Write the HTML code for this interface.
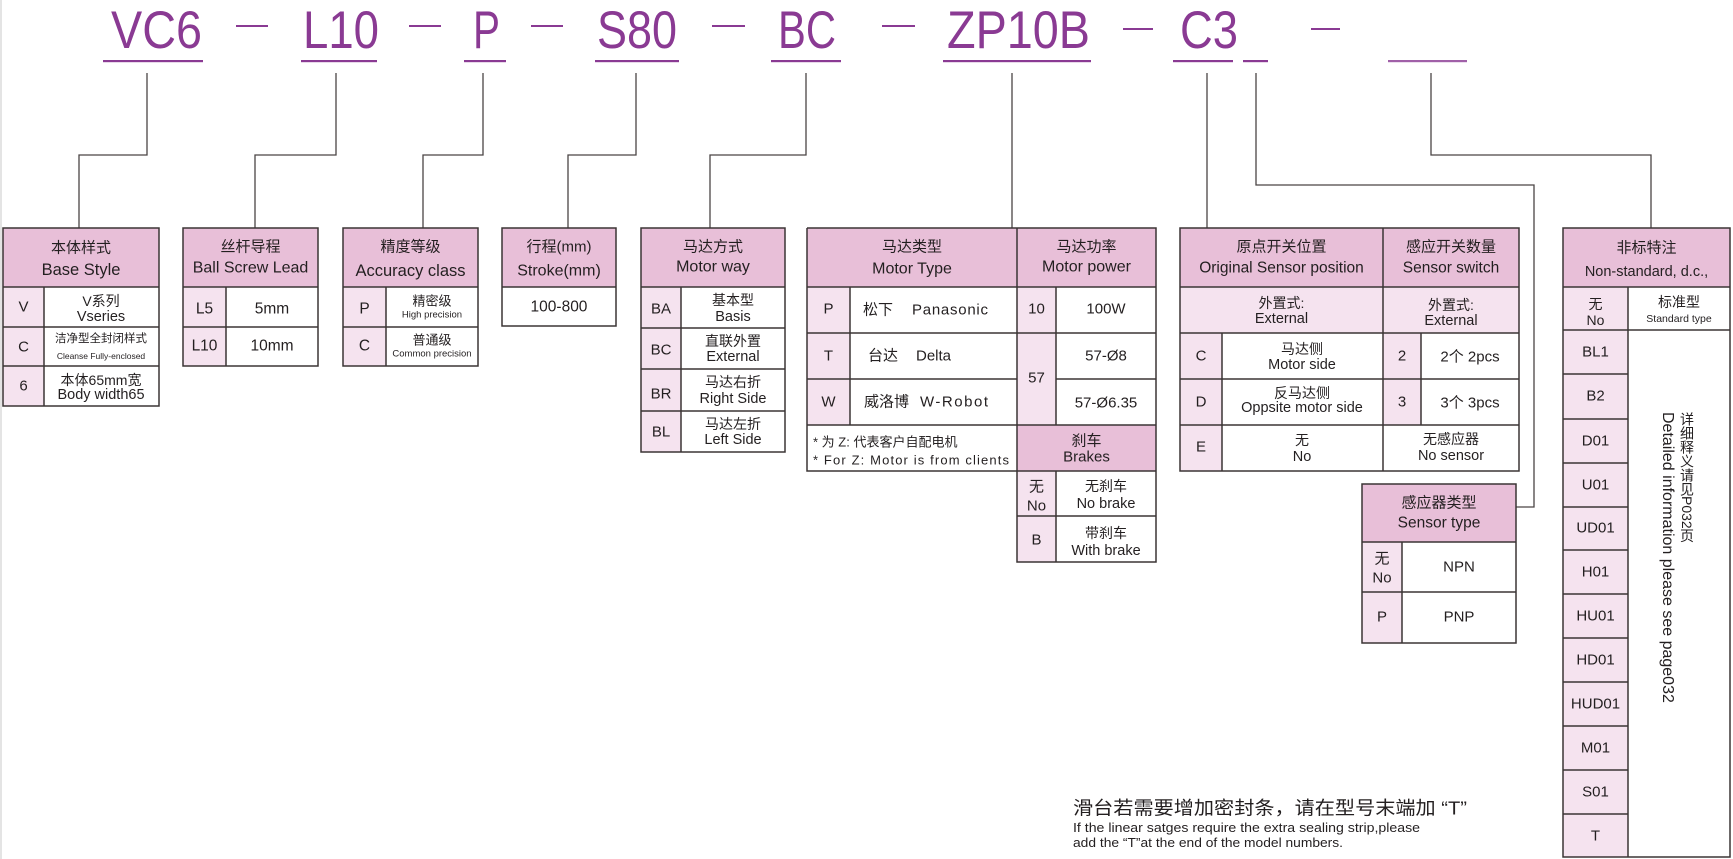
<!DOCTYPE html>
<html><head><meta charset="utf-8">
<style>
html,body{margin:0;padding:0;background:#fff;}
body{width:1733px;height:859px;position:relative;overflow:hidden;}
svg{position:absolute;left:0;top:0;}
svg text{font-family:"Liberation Sans","Noto Sans CJK SC",sans-serif;fill:#231f20;dominant-baseline:central;text-anchor:middle;}
.vt{position:absolute;left:1658px;top:412px;writing-mode:vertical-rl;font-family:"Liberation Sans","Noto Sans CJK SC",sans-serif;color:#231f20;line-height:19px;white-space:nowrap;}
.vt .c{font-size:14px;}
.vt .e{font-size:16px;}
</style></head><body>
<svg width="1733" height="859" viewBox="0 0 1733 859" xmlns="http://www.w3.org/2000/svg">
<rect x="0" y="0" width="2" height="859" fill="#e4e4e4"/>
<!-- Title -->
<g font-size="53">
<text x="111" y="48" style="fill:#8a3a93;dominant-baseline:auto;text-anchor:start" textLength="91" lengthAdjust="spacingAndGlyphs">VC6</text>
<text x="303" y="48" style="fill:#8a3a93;dominant-baseline:auto;text-anchor:start" textLength="76" lengthAdjust="spacingAndGlyphs">L10</text>
<text x="473" y="48" style="fill:#8a3a93;dominant-baseline:auto;text-anchor:start" textLength="27" lengthAdjust="spacingAndGlyphs">P</text>
<text x="597" y="48" style="fill:#8a3a93;dominant-baseline:auto;text-anchor:start" textLength="80" lengthAdjust="spacingAndGlyphs">S80</text>
<text x="778" y="48" style="fill:#8a3a93;dominant-baseline:auto;text-anchor:start" textLength="58" lengthAdjust="spacingAndGlyphs">BC</text>
<text x="947" y="48" style="fill:#8a3a93;dominant-baseline:auto;text-anchor:start" textLength="143" lengthAdjust="spacingAndGlyphs">ZP10B</text>
<text x="1180" y="48" style="fill:#8a3a93;dominant-baseline:auto;text-anchor:start" textLength="58" lengthAdjust="spacingAndGlyphs">C3</text>
</g>
<g fill="#8a3a93">
<rect x="103" y="60" width="100" height="2.2"/>
<rect x="301" y="60" width="76" height="2.2"/>
<rect x="464" y="60" width="42" height="2.2"/>
<rect x="595" y="60" width="84" height="2.2"/>
<rect x="771" y="60" width="70" height="2.2"/>
<rect x="943" y="60" width="148" height="2.2"/>
<rect x="1173" y="60" width="60" height="2.2"/>
<rect x="1243" y="60" width="25" height="2.2"/>
<rect x="1388" y="60" width="79" height="2.2" fill="#a060a8"/>
<rect x="236" y="25" width="32" height="2"/>
<rect x="409" y="25" width="32" height="2"/>
<rect x="531" y="25" width="32" height="2"/>
<rect x="712" y="25" width="33" height="2"/>
<rect x="882" y="25" width="33" height="2"/>
<rect x="1123" y="28" width="30" height="2"/>
<rect x="1311" y="28" width="29" height="2"/>
</g>
<!-- connectors -->
<g fill="none" stroke="#4a4545" stroke-width="1.3">
<path d="M147 73V155H79V228"/>
<path d="M336 73V155H255V228"/>
<path d="M483 73V155H423V228"/>
<path d="M636 73V155H568V228"/>
<path d="M806 73V155H710V228"/>
<path d="M1012 73V228"/>
<path d="M1207 73V228"/>
<path d="M1256 73V185H1534V507H1516"/>
<path d="M1431 73V155H1651V228"/>
</g>

<!-- fills -->
<g>
<rect x="3" y="228" width="156" height="59" fill="#e8bfd8"/>
<rect x="3" y="287" width="41" height="119" fill="#f5e3ef"/>
<rect x="183" y="228" width="135" height="59" fill="#e8bfd8"/>
<rect x="183" y="287" width="43" height="79" fill="#f5e3ef"/>
<rect x="343" y="228" width="135" height="59" fill="#e8bfd8"/>
<rect x="343" y="287" width="43" height="79" fill="#f5e3ef"/>
<rect x="502" y="228" width="114" height="59" fill="#e8bfd8"/>
<rect x="641" y="228" width="144" height="59" fill="#e8bfd8"/>
<rect x="641" y="287" width="40" height="165" fill="#f5e3ef"/>
<rect x="807" y="228" width="349" height="59" fill="#e8bfd8"/>
<rect x="807" y="287" width="43" height="138" fill="#f5e3ef"/>
<rect x="1017" y="287" width="39" height="138" fill="#f5e3ef"/>
<rect x="1017" y="425" width="139" height="46" fill="#e8bfd8"/>
<rect x="1017" y="471" width="39" height="91" fill="#f5e3ef"/>
<rect x="1180" y="228" width="339" height="59" fill="#e8bfd8"/>
<rect x="1180" y="287" width="339" height="46" fill="#f5e3ef"/>
<rect x="1180" y="333" width="42" height="138" fill="#f5e3ef"/>
<rect x="1383" y="333" width="38" height="92" fill="#f5e3ef"/>
<rect x="1362" y="484" width="154" height="58" fill="#e8bfd8"/>
<rect x="1362" y="542" width="40" height="101" fill="#f5e3ef"/>
<rect x="1563" y="228" width="167" height="59" fill="#e8bfd8"/>
<rect x="1563" y="287" width="65" height="570" fill="#f5e3ef"/>
</g>

<!-- borders -->
<g fill="none" stroke="#3b3535" stroke-width="1.5">
<rect x="3" y="228" width="156" height="178"/>
<path d="M3 287H159M3 327H159M3 366H159M44 287V406"/>
<rect x="183" y="228" width="135" height="138"/>
<path d="M183 287H318M183 327H318M226 287V366"/>
<rect x="343" y="228" width="135" height="138"/>
<path d="M343 287H478M343 327H478M386 287V366"/>
<rect x="502" y="228" width="114" height="98"/>
<path d="M502 287H616"/>
<rect x="641" y="228" width="144" height="224"/>
<path d="M641 287H785M641 328H785M641 369H785M641 411H785M681 287V452"/>
<path d="M807 228H1156V562H1017V228M807 228V471H1017"/>
<path d="M807 287H1156M807 333H1156M807 379H1017M1056 379H1156M807 425H1156M850 287V425M1056 287V425M1017 471H1156M1017 516H1156M1056 471V562"/>
<rect x="1180" y="228" width="339" height="243"/>
<path d="M1180 287H1519M1180 333H1519M1180 379H1519M1180 425H1519M1383 228V471M1222 333V471M1421 333V425"/>
<rect x="1362" y="484" width="154" height="159"/>
<path d="M1362 542H1516M1362 592H1516M1402 542V643"/>
<rect x="1563" y="228" width="167" height="629"/>
<path d="M1563 287H1730M1563 330H1730M1628 287V857"/>
<path d="M1563 374H1628M1563 419H1628M1563 463H1628M1563 507H1628M1563 550H1628M1563 594H1628M1563 638H1628M1563 682H1628M1563 726H1628M1563 770H1628M1563 814H1628"/>
</g>

<!-- T1 text -->
<g font-size="15">
<text x="81" y="248">本体样式</text>
<text x="81" y="270" font-size="16.5">Base Style</text>
<text x="23.5" y="307">V</text>
<text x="23.5" y="347">C</text>
<text x="23.5" y="386">6</text>
<text x="101" y="301" font-size="14">V系列</text>
<text x="101" y="317" font-size="14.5">Vseries</text>
<text x="101" y="339" font-size="11.5">洁净型全封闭样式</text>
<text x="101" y="356" font-size="8.5">Cleanse Fully-enclosed</text>
<text x="101" y="380" font-size="14">本体65mm宽</text>
<text x="101" y="395" font-size="14.5">Body width65</text>
</g>
<!-- T2 -->
<g font-size="15.5">
<text x="250.5" y="247" font-size="15">丝杆导程</text>
<text x="250.5" y="268" font-size="16">Ball Screw Lead</text>
<text x="204.5" y="309">L5</text>
<text x="204.5" y="346">L10</text>
<text x="272" y="309">5mm</text>
<text x="272" y="346">10mm</text>
</g>
<!-- T3 -->
<g font-size="15.5">
<text x="410.5" y="247" font-size="15">精度等级</text>
<text x="410.5" y="271" font-size="16.5">Accuracy class</text>
<text x="364.5" y="309">P</text>
<text x="364.5" y="346">C</text>
<text x="432" y="301" font-size="13">精密级</text>
<text x="432" y="315" font-size="9.5">High precision</text>
<text x="432" y="340" font-size="13">普通级</text>
<text x="432" y="354" font-size="9.5">Common precision</text>
</g>
<!-- T4 -->
<g font-size="15.5">
<text x="559" y="247" font-size="15">行程(mm)</text>
<text x="559" y="271" font-size="16">Stroke(mm)</text>
<text x="559" y="307">100-800</text>
</g>
<!-- T5 -->
<g font-size="15">
<text x="713" y="247">马达方式</text>
<text x="713" y="267" font-size="16">Motor way</text>
<text x="661" y="309">BA</text>
<text x="661" y="350">BC</text>
<text x="661" y="394">BR</text>
<text x="661" y="432">BL</text>
<text x="733" y="300" font-size="14">基本型</text>
<text x="733" y="317" font-size="14.5">Basis</text>
<text x="733" y="341" font-size="14">直联外置</text>
<text x="733" y="357" font-size="14.5">External</text>
<text x="733" y="382" font-size="14">马达右折</text>
<text x="733" y="399" font-size="14.5">Right Side</text>
<text x="733" y="424" font-size="14">马达左折</text>
<text x="733" y="440" font-size="14.5">Left Side</text>
</g>
<!-- T6 -->
<g font-size="15">
<text x="912" y="247">马达类型</text>
<text x="912" y="269" font-size="16">Motor Type</text>
<text x="1086.5" y="247">马达功率</text>
<text x="1086.5" y="267" font-size="16">Motor power</text>
<text x="828.5" y="309">P</text>
<text x="828.5" y="356">T</text>
<text x="828.5" y="402">W</text>
<text x="863" y="310" style="text-anchor:start">松下</text>
<text x="912" y="310" style="text-anchor:start" textLength="76">Panasonic</text>
<text x="868" y="356" style="text-anchor:start">台达</text>
<text x="916" y="356" style="text-anchor:start">Delta</text>
<text x="864" y="402" style="text-anchor:start">威洛博</text>
<text x="920" y="402" style="text-anchor:start" textLength="68">W-Robot</text>
<text x="813" y="442" font-size="13" style="text-anchor:start">* 为 Z: 代表客户自配电机</text>
<text x="813" y="460" font-size="13" style="text-anchor:start" textLength="196">* For Z: Motor is from clients</text>
<text x="1036.5" y="309">10</text>
<text x="1106" y="309">100W</text>
<text x="1036.5" y="378">57</text>
<text x="1106" y="356">57-Ø8</text>
<text x="1106" y="403">57-Ø6.35</text>
<text x="1086.5" y="441">刹车</text>
<text x="1086.5" y="457">Brakes</text>
<text x="1036.5" y="487">无</text>
<text x="1036.5" y="506">No</text>
<text x="1106" y="486" font-size="14">无刹车</text>
<text x="1106" y="504" font-size="14.5">No brake</text>
<text x="1036.5" y="540">B</text>
<text x="1106" y="533" font-size="14">带刹车</text>
<text x="1106" y="551" font-size="14.5">With brake</text>
</g>
<!-- T7 -->
<g font-size="15">
<text x="1281.5" y="247">原点开关位置</text>
<text x="1281.5" y="268" font-size="15.5">Original Sensor position</text>
<text x="1451" y="247">感应开关数量</text>
<text x="1451" y="268" font-size="15.5">Sensor switch</text>
<text x="1281.5" y="303" font-size="14">外置式:</text>
<text x="1281.5" y="319" font-size="14.5">External</text>
<text x="1451" y="305" font-size="14">外置式:</text>
<text x="1451" y="321" font-size="14.5">External</text>
<text x="1201" y="356">C</text>
<text x="1201" y="402">D</text>
<text x="1201" y="447">E</text>
<text x="1302" y="349" font-size="14">马达侧</text>
<text x="1302" y="365" font-size="14.5">Motor side</text>
<text x="1302" y="393" font-size="14">反马达侧</text>
<text x="1302" y="408" font-size="14.5">Oppsite motor side</text>
<text x="1302" y="440" font-size="14">无</text>
<text x="1302" y="457" font-size="14.5">No</text>
<text x="1402" y="356">2</text>
<text x="1402" y="402">3</text>
<text x="1470" y="357">2个  2pcs</text>
<text x="1470" y="403">3个  3pcs</text>
<text x="1451" y="439" font-size="14">无感应器</text>
<text x="1451" y="456" font-size="14.5">No sensor</text>
</g>
<!-- T8 -->
<g font-size="15">
<text x="1439" y="503">感应器类型</text>
<text x="1439" y="523" font-size="15.5">Sensor type</text>
<text x="1382" y="559">无</text>
<text x="1382" y="578">No</text>
<text x="1459" y="567">NPN</text>
<text x="1382" y="617">P</text>
<text x="1459" y="617">PNP</text>
</g>
<!-- T9 -->
<g font-size="15">
<text x="1646.5" y="248">非标特注</text>
<text x="1646.5" y="272" font-size="14.5">Non-standard, d.c.,</text>
<text x="1595.5" y="304" font-size="14">无</text>
<text x="1595.5" y="320" font-size="14">No</text>
<text x="1679" y="302" font-size="14">标准型</text>
<text x="1679" y="319" font-size="10.5">Standard type</text>
<text x="1595.5" y="352">BL1</text>
<text x="1595.5" y="396">B2</text>
<text x="1595.5" y="441">D01</text>
<text x="1595.5" y="485">U01</text>
<text x="1595.5" y="528">UD01</text>
<text x="1595.5" y="572">H01</text>
<text x="1595.5" y="616">HU01</text>
<text x="1595.5" y="660">HD01</text>
<text x="1595.5" y="704">HUD01</text>
<text x="1595.5" y="748">M01</text>
<text x="1595.5" y="792">S01</text>
<text x="1595.5" y="836">T</text>
</g>
<!-- bottom note -->
<text x="1073" y="808" font-size="18.5" style="text-anchor:start" textLength="394" lengthAdjust="spacingAndGlyphs">滑台若需要增加密封条，请在型号末端加 “T”</text>
<text x="1073" y="828" font-size="12.5" style="text-anchor:start" textLength="347" lengthAdjust="spacingAndGlyphs">If the linear satges require the extra sealing strip,please</text>
<text x="1073" y="843" font-size="12.5" style="text-anchor:start" textLength="270" lengthAdjust="spacingAndGlyphs">add the “T”at the end of the model numbers.</text>
</svg>
<div class="vt"><span class="c">详细释义请见P032页</span><br><span class="e">Detailed information please see page032</span></div>
</body></html>
